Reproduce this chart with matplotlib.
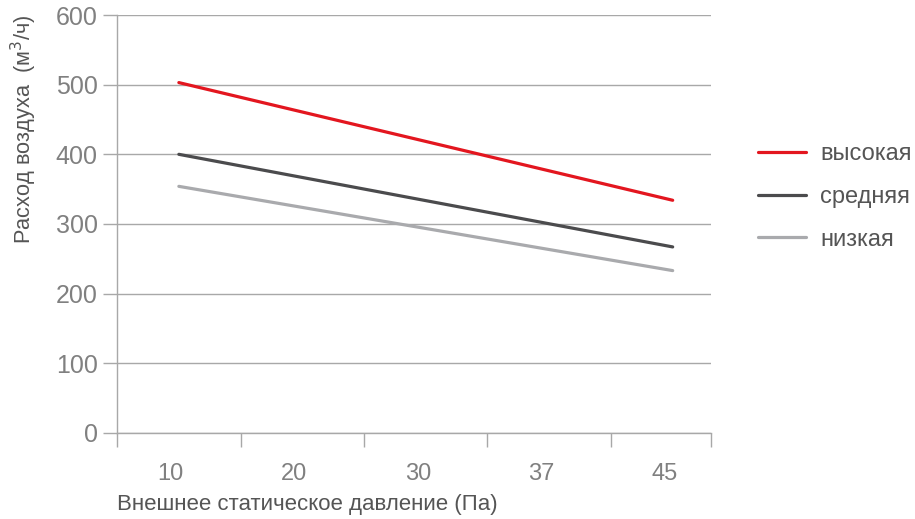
import numpy as np
import matplotlib.pyplot as plt
from matplotlib.transforms import ScaledTranslation

plt.rcParams['font.family'] = ['Liberation Sans', 'DejaVu Sans']

pressure = ['10', '20', '30', '37', '45']
high = [503, 334]
medium = [400, 267]
low = [354, 233]
names = ['высокая', 'средняя', 'низкая']
colors = ['#e3161f', '#4b4b4d', '#a9aaad']

fig = plt.figure(figsize=(9.15, 5.19), dpi=100)
ax = fig.add_axes([0.128, 0.166, 0.649, 0.805])

xs = [0, len(pressure) - 1]
for vals, name, c in zip([high, medium, low], names, colors):
    ax.plot(xs, vals, color=c, lw=2.3, solid_capstyle='round', label=name)

grid_c = '#a8a8a8'
ax.set_xlim(-0.5, 4.31)
ax.set_ylim(0, 600)
ax.set_yticks(np.arange(0, 601, 100))
ax.yaxis.grid(True, color=grid_c, lw=1)
ax.set_axisbelow(True)

ax.set_xticks(np.arange(len(pressure)))
ax.set_xticklabels(pressure)
ax.tick_params(axis='x', length=0, pad=22, labelsize=17, labelcolor='#808080')
# labels sit a little left of the category centres
for lbl in ax.get_xticklabels():
    lbl.set_transform(lbl.get_transform() + ScaledTranslation(-0.08, 0, fig.dpi_scale_trans))
# category boundary ticks
ax.set_xticks(list(np.arange(-0.5, 4, 1.0)) + [4.31], minor=True)
ax.tick_params(axis='x', which='minor', length=10, color=grid_c, width=1)
ax.tick_params(axis='y', length=10, color=grid_c, width=1, pad=4,
               labelsize=18, labelcolor='#808080')

for s in ['top', 'right']:
    ax.spines[s].set_visible(False)
for s in ['left', 'bottom']:
    ax.spines[s].set_color(grid_c)
    ax.spines[s].set_linewidth(1)

ax.set_xlabel('Внешнее статическое давление (Па)', loc='left', fontsize=16,
              color='#555555', labelpad=6)
ax.set_ylabel('Расход воздуха  (м$^3$/ч)', loc='top', fontsize=15.7,
              color='#555555', labelpad=12)

leg = ax.legend(loc='upper left', bbox_to_anchor=(0.815, 0.747),
                bbox_transform=fig.transFigure, frameon=False, fontsize=17,
                handlelength=2.05, handletextpad=0.6, labelspacing=0.88,
                labelcolor='#555555', borderpad=0)

fig.savefig('out.png', dpi=100)
